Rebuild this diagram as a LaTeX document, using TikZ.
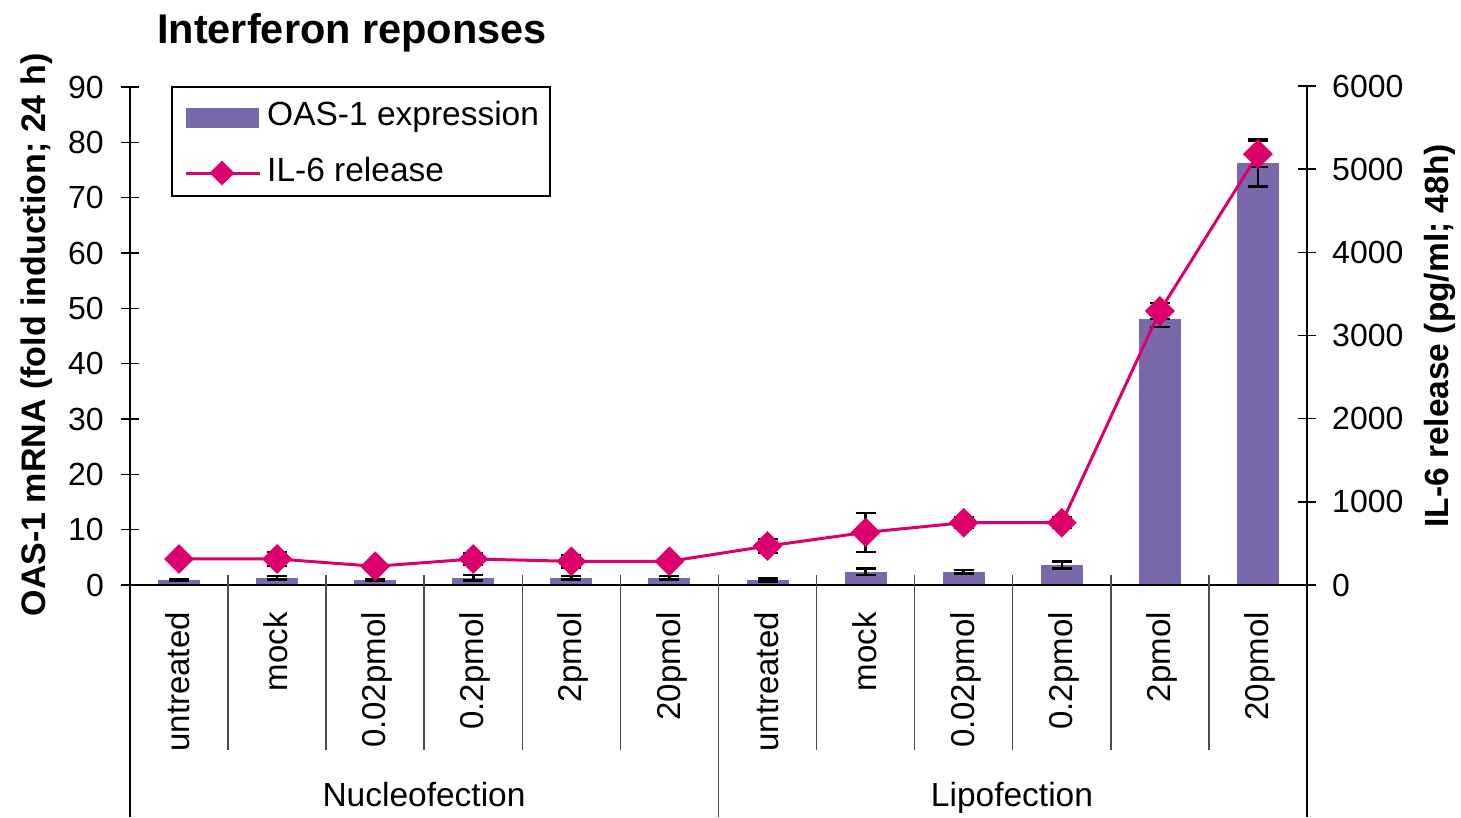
\documentclass[tikz,border=0pt]{standalone}
\usepackage{fontspec}
\setmainfont{Liberation Sans}
\usetikzlibrary{shapes.geometric}
\definecolor{barpurple}{RGB}{122,104,172}
\definecolor{ilpink}{RGB}{220,0,108}
\begin{document}
\begin{tikzpicture}[x=1pt,y=-1pt,
  axisline/.style={line width=1.5pt, black},
  sepline/.style={line width=1.5pt, black!70},
  errbar/.style={line width=2.6pt, black},
  illine/.style={line width=3pt, ilpink},
  mk/.style={diamond, fill=ilpink, draw=none, inner sep=0pt, minimum size=30pt},
  ticklab/.style={font=\fontsize{32}{38}\selectfont, inner sep=0pt},
  catlab/.style={rotate=90, anchor=east, font=\fontsize{33}{40}\selectfont, text height=0.72em, text depth=0pt, inner sep=0pt},
  grouplab/.style={anchor=base, font=\fontsize{33.5}{40}\selectfont, inner sep=0pt},
  axtitle/.style={rotate=90, anchor=base, font=\bfseries\fontsize{34}{40}\selectfont, inner sep=0pt}
]
\useasboundingbox (0,0) rectangle (1461,817);

% title
\node[anchor=base west, font=\bfseries\fontsize{41.5}{48}\selectfont, inner sep=0pt] (title) at (157,43) {Interferon reponses};

% bars
\foreach \i/\v in {1/0.9, 2/1.3, 3/0.9, 4/1.3, 5/1.3, 6/1.3, 7/0.9, 8/2.4, 9/2.4, 10/3.6, 11/48.1, 12/76.3}{
  \pgfmathsetmacro\cx{130+98.083*(\i-0.5)}
  \pgfmathsetmacro\yt{585-\v*5.533}
  \fill[barpurple] ({\cx-21},585) rectangle ({\cx+21},\yt);
}

% axes
\draw[axisline] (130,86) -- (130,817);
\draw[axisline] (1307,86) -- (1307,817);
\draw[axisline] (121,585) -- (1316,585);
\foreach \v in {0,10,...,90}{
  \draw[axisline] (121,{585-\v*5.533}) -- (139,{585-\v*5.533});
  \node[ticklab, anchor=east] (l\v) at (104,{585-\v*5.533}) {\v};
}
\foreach \v in {0,1000,...,6000}{
  \draw[axisline] (1298,{585-\v*0.083167}) -- (1316,{585-\v*0.083167});
  \node[ticklab, anchor=west] (r\v) at (1332,{585-\v*0.083167}) {\v};
}

% category separators
\foreach \x in {228.1,326.2,424.2,522.3,620.4,816.6,914.7,1012.7,1110.8,1208.9}{
  \draw[sepline] (\x,575) -- (\x,750);
}
\draw[sepline] (718.5,575) -- (718.5,817);

% category labels
\foreach \i/\t in {1/untreated, 2/mock, 3/0.02pmol, 4/0.2pmol, 5/2pmol, 6/20pmol, 7/untreated, 8/mock, 9/0.02pmol, 10/0.2pmol, 11/2pmol, 12/20pmol}{
  \pgfmathsetmacro\cx{130+98.083*(\i-0.5)}
  \node[catlab] (c\i) at ({\cx+7},612) {\t};
}
\node[grouplab] (nuc) at (424,806) {Nucleofection};
\node[grouplab] (lip) at (1012,806) {Lipofection};

% axis titles
\node[axtitle] (ytl) at (45,335) {OAS-1 mRNA (fold induction; 24 h)};
\node[axtitle, font=\bfseries\fontsize{33.5}{40}\selectfont] (ytr) at (1448,336) {IL-6 release (pg/ml; 48h)};

% OAS error bars
\foreach \i/\v/\e in {1/0.9/0.2, 2/1.3/0.3, 3/0.9/0.2, 4/1.3/0.5, 5/1.3/0.3, 6/1.3/0.3, 7/0.9/0.3, 8/2.4/0.6, 9/2.4/0.3, 10/3.6/0.6, 11/48.1/1.5, 12/76.3/4.3}{
  \pgfmathsetmacro\cx{130+98.083*(\i-0.5)}
  \pgfmathsetmacro\yt{585-\v*5.533}
  \pgfmathsetmacro\ee{\e*5.533}
  \draw[errbar] (\cx,{\yt-\ee}) -- (\cx,{\yt+\ee})
    ({\cx-10},{\yt-\ee}) -- ({\cx+10},{\yt-\ee})
    ({\cx-10},{\yt+\ee}) -- ({\cx+10},{\yt+\ee});
}

% IL-6 points and error bars
\foreach \i/\v/\e in {1/313/3, 2/313/7, 3/225/3, 4/313/6, 5/285/6, 6/285/3, 7/469/7, 8/633/19.5, 9/749/5, 10/749/5, 11/3295/8, 12/5182/13}{
  \pgfmathsetmacro\cx{130+98.083*(\i-0.5)}
  \pgfmathsetmacro\yy{585-\v*0.083167}
  \coordinate (p\i) at (\cx,\yy);
  \draw[errbar] (\cx,{\yy-\e}) -- (\cx,{\yy+\e})
    ({\cx-10},{\yy-\e}) -- ({\cx+10},{\yy-\e})
    ({\cx-10},{\yy+\e}) -- ({\cx+10},{\yy+\e});
}
\draw[illine] (p1) -- (p2) -- (p3) -- (p4) -- (p5) -- (p6) -- (p7) -- (p8) -- (p9) -- (p10) -- (p11) -- (p12);
\foreach \i in {1,...,12}{
  \node[mk] (d\i) at (p\i) {};
}

% legend
\draw[line width=1.2pt, black] (172,87) rectangle (550,196);
\fill[barpurple] (186,108) rectangle (259,128);
\node[anchor=west, font=\fontsize{33.5}{40}\selectfont, inner sep=0pt] (leg1) at (267,117) {OAS-1 expression};
\coordinate (la) at (186,173);
\coordinate (lb) at (260,173);
\draw[illine] (la) -- (lb);
\node[mk, minimum size=25pt] (legd) at (222,173) {};
\node[anchor=west, font=\fontsize{33.5}{40}\selectfont, inner sep=0pt] (leg2) at (267,170) {IL-6 release};
\end{tikzpicture}
\end{document}
